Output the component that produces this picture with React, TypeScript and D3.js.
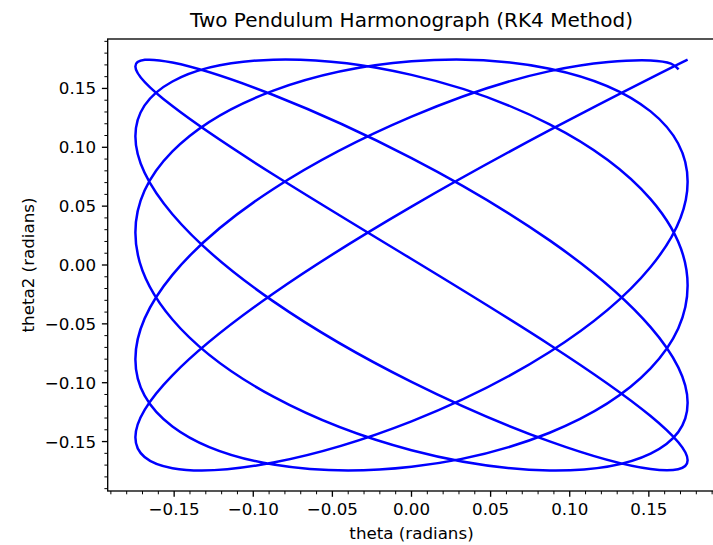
import React from "react";
import * as d3 from "d3";

const width = 713;
const height = 545;
const margin = { top: 39, right: -2.3, bottom: 54, left: 107.7 };
const font = "DejaVu Sans, sans-serif";

// pendulum angles (radians), in trace order
const theta = [
  0.1745, 0.1511, 0.0873, 0, -0.0873, -0.1511, -0.1745, -0.1511, -0.0873, 0, 0.0873, 0.1511,
  0.1745, 0.1511, 0.0873, 0, -0.0873, -0.1511, -0.1745, -0.1511, -0.0873, 0, 0.0873, 0.1511,
  0.1745, 0.1511, 0.0873, 0, -0.0873, -0.1511, -0.1745, -0.1511, -0.0873, 0, 0.0873, 0.1511,
  0.1745, 0.1511, 0.0873, 0, -0.0873, -0.1511, -0.1745, -0.1511, -0.0873, 0, 0.0873, 0.1511,
  0.1745, 0.1511, 0.0873, 0, -0.0873, -0.1511, -0.1745, -0.1511, -0.0873, 0, 0.0873, 0.1511,
  0.1688,
];
const theta2 = [
  0.1745, 0.1588, 0.1145, 0.0496, -0.0242, -0.0937, -0.1463, -0.1726, -0.1678, -0.1328, -0.0739, -0.0017,
  0.0708, 0.1305, 0.1668, 0.173, 0.1481, 0.0965, 0.0276, -0.0463, -0.1119, -0.1574, -0.1745, -0.1602,
  -0.117, -0.0528, 0.0209, 0.0908, 0.1444, 0.172, 0.1687, 0.135, 0.0769, 0.0051, -0.0677, -0.1283,
  -0.1658, -0.1734, -0.1499, -0.0993, -0.0309, 0.0431, 0.1093, 0.1559, 0.1744, 0.1615, 0.1195, 0.056,
  -0.0175, -0.0879, -0.1425, -0.1714, -0.1695, -0.1371, -0.08, -0.0084, 0.0646, 0.126, 0.1647, 0.1738,
  0.1662,
];

const xTicks = [-0.15, -0.1, -0.05, 0, 0.05, 0.1, 0.15];
const yTicks = [-0.15, -0.1, -0.05, 0, 0.05, 0.1, 0.15];
const xLimits = [-0.192, 0.192];
const yLimits = [-0.192, 0.192];

const fmt = (v: number) => d3.format(".2f")(v).replace("-", "\u2212");

const App = () => {
  const xScale = d3.scaleLinear().domain(xLimits).range([margin.left, width - margin.right]);
  const yScale = d3.scaleLinear().domain(yLimits).range([height - margin.bottom, margin.top]);

  const minor = d3.range(-19, 20).filter((k) => k % 5 !== 0).map((k) => k / 100);

  const line = d3
    .line<number>()
    .x((d) => xScale(d))
    .y((d, i) => yScale(theta2[i]))
    .curve(d3.curveNatural);

  const x0 = margin.left;
  const y0 = height - margin.bottom;
  const x1 = width - margin.right;
  const y1 = margin.top;

  return (
    <svg
      width={width}
      height={height}
      style={{ position: "absolute", left: 0, top: 0, background: "#fff" }}
      fontFamily={font}
    >
      <rect x={0} y={0} width={width} height={height} fill="#fff" />

      <path d={line(theta) || ""} fill="none" stroke="#0000ff" strokeWidth={2.5} strokeLinejoin="round" />

      {/* frame */}
      <rect x={x0} y={y1} width={x1 - x0} height={y0 - y1} fill="none" stroke="#000" strokeWidth={1.33} />

      {/* x axis */}
      {minor.map((v) => (
        <line key={"xm" + v} x1={xScale(v)} x2={xScale(v)} y1={y0} y2={y0 + 3.3} stroke="#000" strokeWidth={1} />
      ))}
      {xTicks.map((v) => (
        <g key={"x" + v}>
          <line x1={xScale(v)} x2={xScale(v)} y1={y0} y2={y0 + 5.8} stroke="#000" strokeWidth={1.33} />
          <text x={xScale(v)} y={y0 + 24.4} fontSize={16.7} textAnchor="middle" fill="#000">
            {fmt(v)}
          </text>
        </g>
      ))}
      <text x={xScale(0)} y={y0 + 47.7} fontSize={16.7} textAnchor="middle" fill="#000">
        theta (radians)
      </text>

      {/* y axis */}
      {minor.map((v) => (
        <line key={"ym" + v} x1={x0 - 3.3} x2={x0} y1={yScale(v)} y2={yScale(v)} stroke="#000" strokeWidth={1} />
      ))}
      {yTicks.map((v) => (
        <g key={"y" + v}>
          <line x1={x0 - 5.8} x2={x0} y1={yScale(v)} y2={yScale(v)} stroke="#000" strokeWidth={1.33} />
          <text x={x0 - 11.7} y={yScale(v) + 6} fontSize={16.7} textAnchor="end" fill="#000">
            {fmt(v)}
          </text>
        </g>
      ))}
      <text
        transform={`translate(34.2,${yScale(0)}) rotate(-90)`}
        fontSize={16.7}
        textAnchor="middle"
        fill="#000"
      >
        theta2 (radians)
      </text>

      <text x={xScale(0)} y={27} fontSize={20} textAnchor="middle" fill="#000">
        Two Pendulum Harmonograph (RK4 Method)
      </text>
    </svg>
  );
};

export default App;
